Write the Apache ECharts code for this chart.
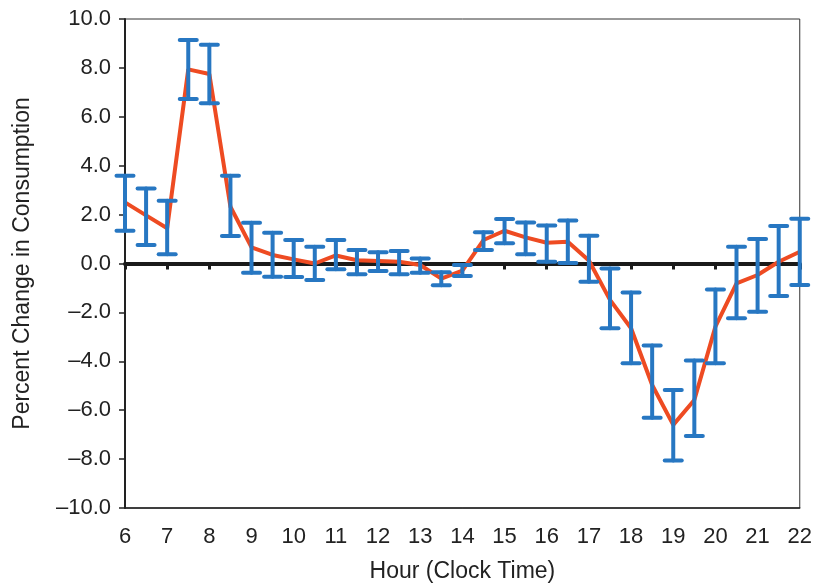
<!DOCTYPE html>
<html>
<head>
<meta charset="utf-8">
<script src="https://cdn.jsdelivr.net/npm/echarts@6/dist/echarts.min.js"></script>
<style>html,body{margin:0;padding:0;background:#fff}#c{width:815px;height:588px}</style>
</head>
<body>
<div id="c"></div>
<script>
var hours = [6,6.5,7,7.5,8,8.5,9,9.5,10,10.5,11,11.5,12,12.5,13,13.5,14,14.5,15,15.5,16,16.5,17,17.5,18,18.5,19,19.5,20,20.5,21,21.5,22];
var change = [2.5,1.97,1.44,7.94,7.75,2.32,0.66,0.35,0.17,0.0,0.33,0.13,0.1,0.07,-0.06,-0.62,-0.29,0.96,1.34,1.07,0.85,0.89,0.12,-1.49,-2.65,-4.97,-6.6,-5.58,-2.58,-0.81,-0.47,0.07,0.48];
var upper = [3.59,3.07,2.57,9.14,8.95,3.59,1.67,1.26,0.96,0.69,0.96,0.55,0.46,0.51,0.2,-0.36,-0.06,1.28,1.82,1.68,1.55,1.76,1.14,-0.2,-1.19,-3.35,-5.17,-3.97,-1.06,0.69,1.0,1.53,1.83];
var lower = [1.34,0.76,0.38,6.73,6.55,1.12,-0.38,-0.54,-0.55,-0.67,-0.24,-0.44,-0.31,-0.44,-0.38,-0.89,-0.51,0.55,0.83,0.38,0.07,0.02,-0.75,-2.65,-4.08,-6.31,-8.06,-7.06,-4.08,-2.24,-1.97,-1.33,-0.88];
var yTicks = ['10.0','8.0','6.0','4.0','2.0','0.0','\u20132.0','\u20134.0','\u20136.0','\u20138.0','\u201310.0'];
var xTitle = 'Hour (Clock Time)';
var yTitle = 'Percent Change in Consumption';

var lineData = hours.map(function(h,i){return [h, change[i]];});
var errData = hours.map(function(h,i){return [h, lower[i], upper[i]];});

var chart = echarts.init(document.getElementById('c'));
var font = 'Liberation Sans, Arial, sans-serif';
chart.setOption({
  animation: false,
  grid: {left:125, right:12, top:19, bottom:80, show:true, borderColor:'#333', borderWidth:1, containLabel:false},
  xAxis: [{
    type:'value', min:6, max:22, interval:1, position:'bottom',
    axisLine:{onZero:false, lineStyle:{color:'#222', width:1.5}},
    axisTick:{show:false}, splitLine:{show:false},
    axisLabel:{margin:18, fontSize:22, color:'#222', fontFamily:font},
    name:xTitle, nameLocation:'middle', nameGap:52,
    nameTextStyle:{fontSize:23, color:'#222', fontFamily:font}
  },{
    type:'value', min:6, max:22, interval:1, position:'bottom',
    axisLine:{onZero:true, lineStyle:{color:'#1a1a1a', width:4}},
    axisTick:{show:true, length:6, lineStyle:{color:'#1a1a1a', width:3}},
    axisLabel:{show:false}, splitLine:{show:false}
  }],
  yAxis: {
    type:'value', min:-10, max:10, interval:2,
    axisLine:{lineStyle:{color:'#222', width:2}},
    axisTick:{show:true, length:6, lineStyle:{color:'#222', width:1.5}},
    splitLine:{show:false},
    axisLabel:{margin:14, fontSize:22, color:'#222', fontFamily:font,
      formatter:function(v){var i = Math.round((10 - v)/2); return yTicks[i];}},
    name:yTitle, nameLocation:'middle', nameGap:91,
    nameTextStyle:{fontSize:23, color:'#222', fontFamily:font}
  },
  series: [{
    type:'line', xAxisIndex:0, data:lineData, symbol:'none',
    lineStyle:{color:'#EE4B22', width:4}, z:3
  },{
    type:'custom', xAxisIndex:0, data:errData, z:4, clip:false,
    renderItem:function(params, api){
      var x = api.value(0);
      var pLo = api.coord([x, api.value(1)]);
      var pHi = api.coord([x, api.value(2)]);
      var hw = 8.5;
      var st = {stroke:'#2777C2', lineWidth:4, lineCap:'round'};
      return {type:'group', children:[
        {type:'line', shape:{x1:pLo[0], y1:pLo[1], x2:pHi[0], y2:pHi[1]}, style:st},
        {type:'line', shape:{x1:pLo[0]-hw, y1:pLo[1], x2:pLo[0]+hw, y2:pLo[1]}, style:st},
        {type:'line', shape:{x1:pHi[0]-hw, y1:pHi[1], x2:pHi[0]+hw, y2:pHi[1]}, style:st}
      ]};
    }
  }]
});
</script>
</body>
</html>
